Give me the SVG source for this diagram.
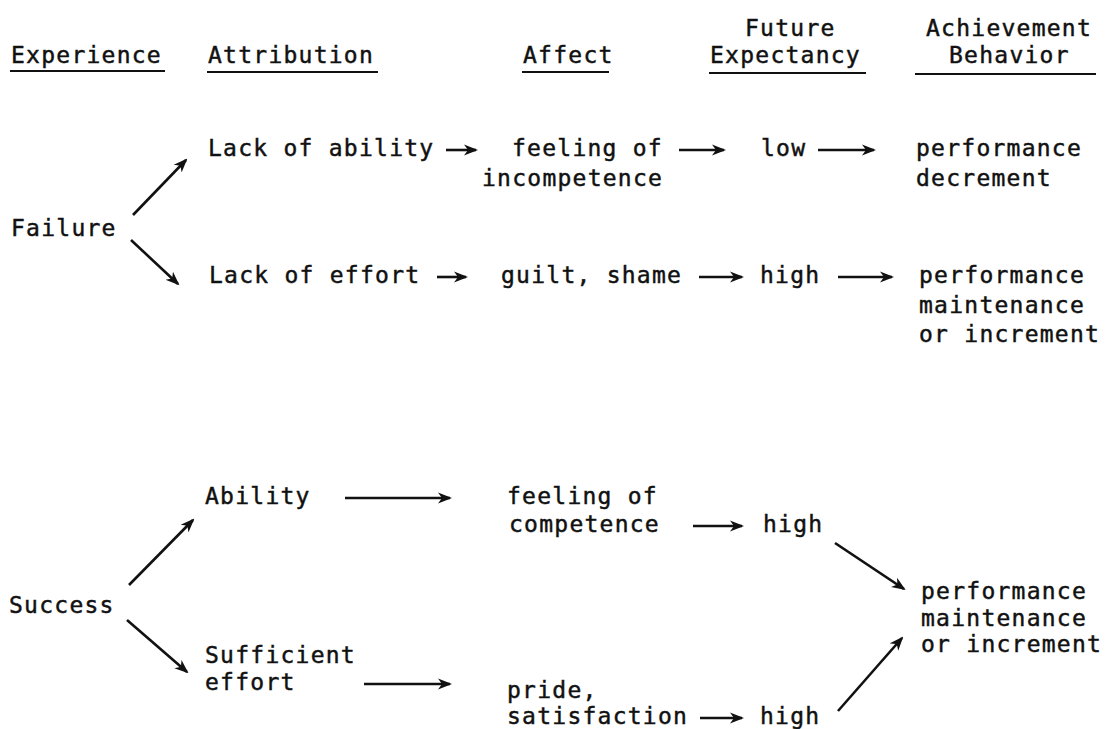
<svg xmlns="http://www.w3.org/2000/svg" width="1116" height="729" viewBox="0 0 1116 729">
<defs>
<style>
text{font-family:"DejaVu Sans Mono","Liberation Mono",monospace;font-size:23px;letter-spacing:1.25px;fill:#111;stroke:#111;stroke-width:0.45}
.ul{stroke:#111;stroke-width:2}
.c{stroke:#111;stroke-width:2.6;fill:none;marker-end:url(#ah)}
</style>
<marker id="ah" markerUnits="userSpaceOnUse" markerWidth="14" markerHeight="12" viewBox="0 0 14 12" refX="12" refY="6" orient="auto">
<path d="M0,0.5 L14,6 L0,11.5 L4,6 Z" fill="#111"/>
</marker>
</defs>
<rect width="1116" height="729" fill="#fff"/>
<g id="headers">
<text x="11" y="63">Experience</text>
<line class="ul" x1="10" y1="71" x2="165" y2="71"/>
<text x="208" y="63">Attribution</text>
<line class="ul" x1="207" y1="72" x2="378" y2="72"/>
<text x="523" y="63">Affect</text>
<line class="ul" x1="522" y1="72" x2="609" y2="72"/>
<text x="745" y="36">Future</text>
<text x="710" y="63">Expectancy</text>
<line class="ul" x1="709" y1="73" x2="866" y2="73"/>
<text x="926" y="36">Achievement</text>
<text x="949" y="63">Behavior</text>
<line class="ul" x1="915" y1="74" x2="1096" y2="74"/>
</g>
<g id="failure"><text x="11" y="236">Failure</text></g>
<g id="lack-ability"><text x="208" y="156">Lack of ability</text></g>
<g id="incompetence"><text x="512" y="156">feeling of</text><text x="482" y="186">incompetence</text></g>
<g id="low"><text x="761" y="156">low</text></g>
<g id="decrement"><text x="916" y="156">performance</text><text x="916" y="186">decrement</text></g>
<g id="lack-effort"><text x="209" y="283">Lack of effort</text></g>
<g id="guilt"><text x="501" y="283">guilt, shame</text></g>
<g id="high1"><text x="760" y="283">high</text></g>
<g id="maint1"><text x="919" y="283">performance</text><text x="919" y="313">maintenance</text><text x="919" y="342">or increment</text></g>
<g id="success"><text x="9" y="613">Success</text></g>
<g id="ability"><text x="205" y="504">Ability</text></g>
<g id="competence"><text x="507" y="504">feeling of</text><text x="509" y="532">competence</text></g>
<g id="high2"><text x="763" y="532">high</text></g>
<g id="maint2"><text x="921" y="599">performance</text><text x="921" y="626">maintenance</text><text x="921" y="652">or increment</text></g>
<g id="sufficient"><text x="205" y="663">Sufficient</text><text x="205" y="690">effort</text></g>
<g id="pride"><text x="507" y="698">pride,</text><text x="507" y="724">satisfaction</text></g>
<g id="high3"><text x="760" y="724">high</text></g>
<g id="connectors">
<line class="c" x1="133" y1="215" x2="186" y2="160"/>
<line class="c" x1="131" y1="240" x2="178" y2="284"/>
<line class="c" x1="446" y1="150" x2="476" y2="150"/>
<line class="c" x1="679" y1="150" x2="724" y2="150"/>
<line class="c" x1="818" y1="150" x2="874" y2="150"/>
<line class="c" x1="437" y1="277" x2="466" y2="277"/>
<line class="c" x1="699" y1="277" x2="742" y2="277"/>
<line class="c" x1="838" y1="277" x2="892" y2="277"/>
<line class="c" x1="129" y1="585" x2="193" y2="520"/>
<line class="c" x1="127" y1="620" x2="187" y2="672"/>
<line class="c" x1="345" y1="498" x2="450" y2="498"/>
<line class="c" x1="693" y1="526" x2="742" y2="526"/>
<line class="c" x1="835" y1="543" x2="904" y2="589"/>
<line class="c" x1="364" y1="684" x2="450" y2="684"/>
<line class="c" x1="700" y1="718" x2="742" y2="718"/>
<line class="c" x1="838" y1="711" x2="902" y2="638"/>
</g>
</svg>
